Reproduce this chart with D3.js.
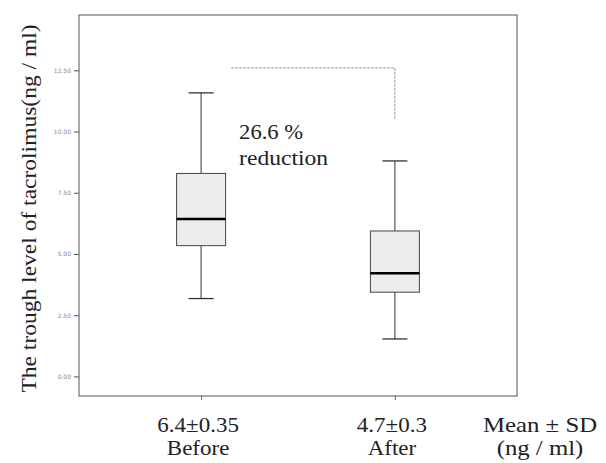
<!DOCTYPE html>
<html><head><meta charset="utf-8">
<script src="https://cdn.jsdelivr.net/npm/d3@7"></script>
<style>body{margin:0;background:#fff}svg{display:block}text.sf{font-family:"Liberation Serif","Times New Roman",Times,serif}</style>
</head><body>
<svg id="c" width="606" height="463"></svg>
<script>
const categories = ["Before", "After"];
const meanSdLabels = ["6.4\u00B10.35", "4.7\u00B10.3"];
const q1 = [5.34, 3.44];
const median = [6.43, 4.21];
const q3 = [8.29, 5.94];
const whiskerLow = [3.18, 1.53];
const whiskerHigh = [11.58, 8.80];
const yTicks = [0, 2.5, 5, 7.5, 10, 12.5];
const reductionLabel = ["26.6 %", "reduction"];
const yTitle = "The trough level of tacrolimus(ng / ml)";
const extraLabel = ["Mean \u00B1 SD", "(ng / ml)"];

const svg = d3.select("#c");
const L = 79, R = 517, T = 15, B = 396;

const y = d3.scaleLinear().domain([-0.8, 14.76]).range([B, T]);
const x = d3.scalePoint().domain(categories).range([L, R]).padding(0.63);

svg.append("rect").attr("x", L).attr("y", T).attr("width", R - L).attr("height", B - T)
  .attr("fill", "none").attr("stroke", "#555").attr("stroke-width", 1);

const ya = svg.append("g").attr("transform", `translate(${L},0)`)
  .call(d3.axisLeft(y).tickValues(yTicks).tickSize(5).tickFormat(d3.format(".2f")));
ya.select(".domain").remove();
ya.selectAll("line").attr("stroke", "#555");
ya.selectAll("text").attr("fill", "#888").attr("font-size", 6).attr("font-family", "DejaVu Sans");

const xa = svg.append("g").attr("transform", `translate(0,${B})`)
  .call(d3.axisBottom(x).tickSize(4).tickFormat(""));
xa.select(".domain").remove();
xa.selectAll("line").attr("stroke", "#666");

const data = categories.map((c, i) => ({c, q1: q1[i], med: median[i], q3: q3[i], lo: whiskerLow[i], hi: whiskerHigh[i]}));
const boxW = 49, capW = 25;
const g = svg.append("g");
data.forEach(d => {
  const cx = x(d.c);
  g.append("line").attr("x1", cx).attr("x2", cx).attr("y1", y(d.hi)).attr("y2", y(d.q3)).attr("stroke", "#333");
  g.append("line").attr("x1", cx).attr("x2", cx).attr("y1", y(d.q1)).attr("y2", y(d.lo)).attr("stroke", "#333");
  g.append("line").attr("x1", cx - capW / 2).attr("x2", cx + capW / 2).attr("y1", y(d.hi)).attr("y2", y(d.hi)).attr("stroke", "#333").attr("stroke-width", 1.3);
  g.append("line").attr("x1", cx - capW / 2).attr("x2", cx + capW / 2).attr("y1", y(d.lo)).attr("y2", y(d.lo)).attr("stroke", "#333").attr("stroke-width", 1.3);
  g.append("rect").attr("x", cx - boxW / 2).attr("y", y(d.q3)).attr("width", boxW).attr("height", y(d.q1) - y(d.q3))
    .attr("fill", "#ececec").attr("stroke", "#444").attr("stroke-width", 1);
  g.append("line").attr("x1", cx - boxW / 2).attr("x2", cx + boxW / 2).attr("y1", y(d.med)).attr("y2", y(d.med)).attr("stroke", "#000").attr("stroke-width", 2.5);
});

const bx1 = x(categories[0]) + 30, bx2 = x(categories[1]);
const by = y(12.6), by2 = y(10.5);
svg.append("path").attr("d", `M${bx1},${by}H${bx2}V${by2}`).attr("fill", "none")
  .attr("stroke", "#999").attr("stroke-width", 1).attr("stroke-dasharray", "3,1");

function txt(px, py, s, size, sx, anchor, rot) {
  return svg.append("text").attr("class", "sf")
    .attr("transform", `translate(${px},${py})${rot ? " rotate(" + rot + ")" : ""} scale(${sx},1)`)
    .attr("text-anchor", anchor).attr("font-size", size)
    .attr("fill", "#222").text(s);
}

txt(bx1 + 8, 139, reductionLabel[0], 20, 1.13, "start");
txt(bx1 + 8, 165, reductionLabel[1], 20, 1.18, "start");

categories.forEach((c, i) => {
  txt(x(c) - 3, 432, meanSdLabels[i], 20, 1.15, "middle");
  txt(x(c) - 3, 455, c, 20, 1.15, "middle");
});
txt(540, 432, extraLabel[0], 20, 1.24, "middle");
txt(540, 455, extraLabel[1], 20, 1.24, "middle");

txt(36, (22 + 395) / 2, yTitle, 21, 1.12, "middle", -90);
</script>
</body></html>
